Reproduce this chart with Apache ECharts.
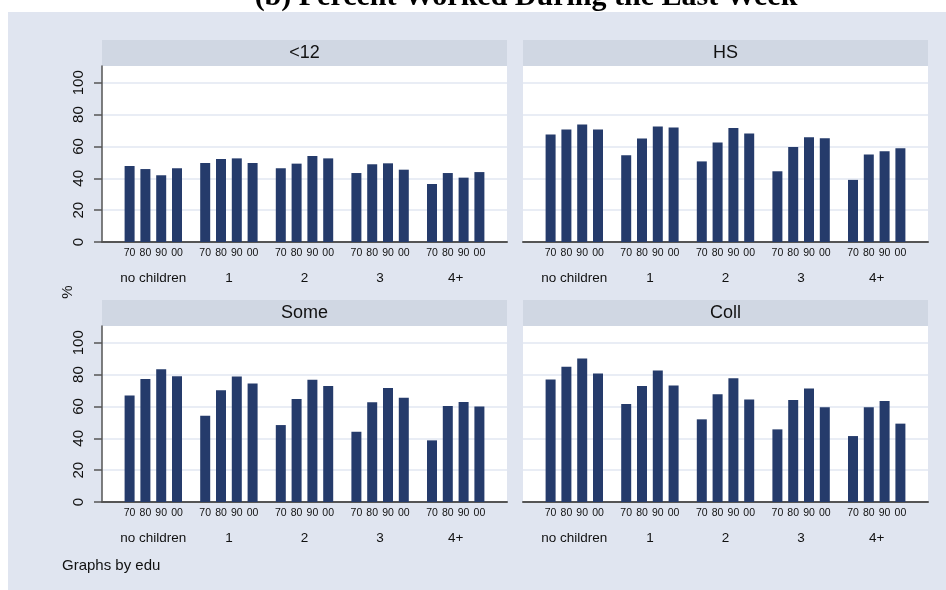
<!DOCTYPE html>
<html>
<head>
<meta charset="utf-8">
<script src="https://cdn.jsdelivr.net/npm/echarts@6/dist/echarts.min.js"></script>
<style>
  html, body { margin: 0; padding: 0; background: #ffffff; }
  #worked { width: 946px; height: 590px; }
</style>
</head>
<body>
<div id="worked"></div>
<script>
// categories
const groups = ["no children", "1", "2", "3", "4+"];
const years = ["70", "80", "90", "00"];
const panelNames = ["<12", "HS", "Some", "Coll"];
const yTicks = [0, 20, 40, 60, 80, 100];

// percent worked, one row per group: [70, 80, 90, 00]
const lessThan12 = [
  [47.7, 45.8, 41.9, 46.3],
  [49.6, 52.1, 52.5, 49.6],
  [46.3, 49.2, 54.0, 52.5],
  [43.3, 48.8, 49.4, 45.4],
  [36.4, 43.3, 40.4, 43.9]
];
const highSchool = [
  [67.5, 70.6, 73.8, 70.6],
  [54.4, 65.0, 72.5, 71.9],
  [50.6, 62.5, 71.5, 68.1],
  [44.4, 59.6, 65.8, 65.2],
  [39.0, 55.0, 56.9, 58.8]
];
const someColl = [
  [66.8, 77.3, 83.4, 79.0],
  [54.2, 70.2, 78.8, 74.4],
  [48.3, 64.7, 76.7, 72.9],
  [44.1, 62.6, 71.6, 65.5],
  [38.7, 60.3, 62.8, 59.9]
];
const college = [
  [76.9, 84.9, 90.1, 80.7],
  [61.6, 72.9, 82.6, 73.1],
  [51.9, 67.6, 77.7, 64.3],
  [45.6, 64.1, 71.2, 59.5],
  [41.4, 59.5, 63.4, 49.2]
];
const panelData = [lessThan12, highSchool, someColl, college];

// panel layout (plot area)
const layout = [
  { left: 102, top: 66, yLabels: true },
  { left: 523, top: 66, yLabels: false },
  { left: 102, top: 326, yLabels: true },
  { left: 523, top: 326, yLabels: false }
];
const plotW = 405, plotH = 176, headH = 26, inset = 13.5;
const bg = "#e0e5f0", head = "#d0d7e3", gridCol = "#e2e7f2", barCol = "#253b6b";
const font = "Liberation Sans";

let grid = [], xAxis = [], yAxis = [], series = [];
let graphic = [
  { type: "rect", shape: { x: 0, y: 0, width: 946, height: 12 }, style: { fill: "#ffffff" }, silent: true },
  { type: "rect", shape: { x: 0, y: 0, width: 8, height: 590 }, style: { fill: "#ffffff" }, silent: true },
  {
    type: "text", x: 526, y: -3, z: 100, silent: true,
    style: { text: "(b) Percent Worked During the Last Week", font: 'bold 30px "Liberation Serif"',
      fill: "#000", textAlign: "center", textVerticalAlign: "middle" }
  },
  {
    type: "text", x: 68, y: 292, rotation: Math.PI / 2, silent: true,
    style: { text: "%", font: '15px "Liberation Sans"', fill: "#111", textAlign: "center", textVerticalAlign: "middle" }
  },
  {
    type: "text", x: 62, y: 566, silent: true,
    style: { text: "Graphs by edu", font: '15px "Liberation Sans"', fill: "#111", textAlign: "left", textVerticalAlign: "middle" }
  }
];

layout.forEach((p, i) => {
  // background grid: white plot, gridlines, y axis, baseline
  grid.push({ left: p.left, top: p.top, width: plotW, height: plotH, show: true, backgroundColor: "#ffffff", borderWidth: 0 });
  // bar grid, inset so groups sit like the original
  grid.push({ left: p.left + inset, top: p.top, width: plotW - 2 * inset, height: plotH });

  const bgIdx = 2 * i, barIdx = 2 * i + 1;
  xAxis.push({
    type: "value", gridIndex: bgIdx, min: 0, max: 1,
    axisLine: { show: true, onZero: false, lineStyle: { color: "#555", width: 2 } },
    axisTick: { show: false }, axisLabel: { show: false }, splitLine: { show: false }
  });
  xAxis.push({
    type: "category", gridIndex: barIdx, data: groups,
    axisLine: { show: false }, axisTick: { show: false },
    axisLabel: { show: true, interval: 0, margin: 29, fontSize: 13.5, fontFamily: font, color: "#111" }
  });
  yAxis.push({
    type: "value", gridIndex: bgIdx, min: 0, max: 110.5, interval: 20,
    axisLine: { show: p.yLabels, lineStyle: { color: "#555", width: 1.5 } },
    axisTick: { show: p.yLabels, length: 8, customValues: yTicks, lineStyle: { color: "#555", width: 1.5 } },
    axisLabel: { show: p.yLabels, customValues: yTicks, rotate: 90, margin: 16, fontSize: 15, fontFamily: font, color: "#111" },
    splitLine: { show: true, lineStyle: { color: gridCol, width: 1.5 } }
  });
  yAxis.push({ type: "value", gridIndex: barIdx, min: 0, max: 110.5, show: false });

  years.forEach((yr, j) => {
    series.push({
      type: "bar", name: yr, xAxisIndex: barIdx, yAxisIndex: barIdx,
      data: panelData[i].map(row => row[j]),
      barWidth: 10, barGap: "58%", silent: true,
      itemStyle: { color: barCol },
      label: { show: true, position: "bottom", distance: 6, formatter: yr, fontSize: 10.5, fontFamily: font, color: "#111" }
    });
  });

  // header strip
  graphic.push({
    type: "rect", silent: true,
    shape: { x: p.left, y: p.top - headH, width: plotW, height: headH },
    style: { fill: head }
  });
  graphic.push({
    type: "text", silent: true, x: p.left + plotW / 2, y: p.top - headH / 2,
    style: { text: panelNames[i], font: '18px "Liberation Sans"', fill: "#111", textAlign: "center", textVerticalAlign: "middle" }
  });
});

const myChart = echarts.init(document.getElementById("worked"));
myChart.setOption({
  backgroundColor: bg,
  animation: false,
  grid: grid,
  xAxis: xAxis,
  yAxis: yAxis,
  series: series,
  graphic: graphic
});
</script>
</body>
</html>
